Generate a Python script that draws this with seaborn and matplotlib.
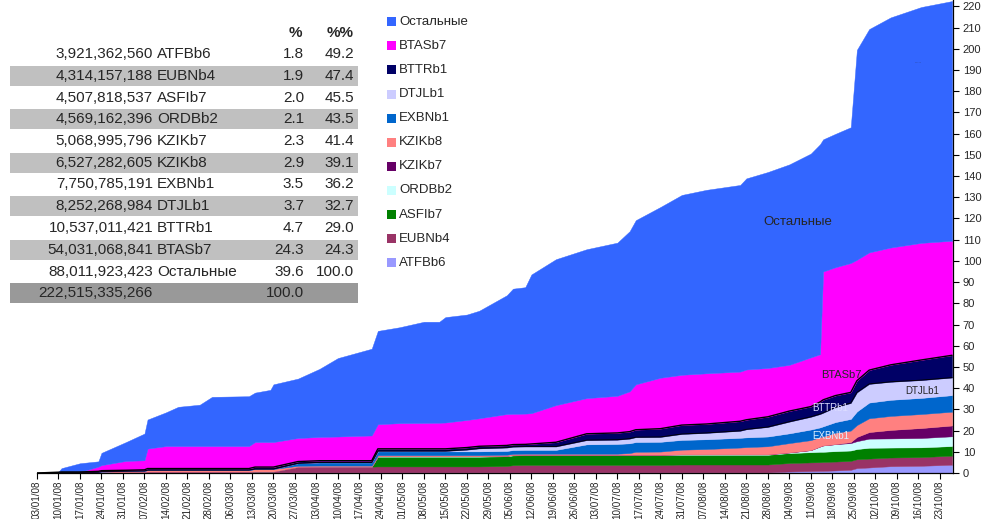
import numpy as np
import pandas as pd
import matplotlib
matplotlib.use("Agg")
import matplotlib.pyplot as plt
import matplotlib.dates as mdates
from matplotlib.patches import Rectangle
import seaborn as sns

# dates of the points
dates = ["2008-01-03", "2008-01-10", "2008-01-11", "2008-01-17", "2008-01-23", "2008-01-24",
         "2008-02-01", "2008-02-07", "2008-02-08", "2008-02-14", "2008-02-18", "2008-02-25",
         "2008-02-29", "2008-03-12", "2008-03-14", "2008-03-19", "2008-03-20", "2008-03-28",
         "2008-04-04", "2008-04-10", "2008-04-21", "2008-04-23", "2008-04-30", "2008-05-08",
         "2008-05-13", "2008-05-15", "2008-05-22", "2008-05-26", "2008-06-04", "2008-06-06",
         "2008-06-10", "2008-06-12", "2008-06-20", "2008-06-30", "2008-07-10", "2008-07-14",
         "2008-07-16", "2008-07-24", "2008-07-31", "2008-08-08", "2008-08-19", "2008-08-21",
         "2008-08-28", "2008-09-04", "2008-09-11", "2008-09-14", "2008-09-15", "2008-09-19",
         "2008-09-24", "2008-09-26", "2008-09-30", "2008-10-07", "2008-10-17", "2008-10-27"]

# series values (billions), bottom of the stack first
ATFBb6 = [0, 0.1, 0.1, 0.1, 0.2, 0.2, 0.2, 0.2, 0.3, 0.3,
          0.3, 0.3, 0.3, 0.3, 0.3, 0.3, 0.3, 0.3, 0.3, 0.3,
          0.3, 0.3, 0.3, 0.3, 0.3, 0.3, 0.3, 0.3, 0.3, 0.3,
          0.3, 0.3, 0.3, 0.3, 0.3, 0.3, 0.3, 0.3, 0.3, 0.3,
          0.3, 0.3, 0.3, 0.7, 0.9, 1.0, 1.0, 1.2, 1.5, 2.3,
          2.6, 3.2, 3.4, 3.9]
EUBNb4 = [0, 0.1, 0.1, 0.1, 0.2, 0.2, 0.2, 0.3, 0.3, 0.3,
          0.3, 0.3, 0.3, 0.3, 0.4, 0.4, 0.4, 2.6, 2.7, 2.7,
          2.7, 2.8, 2.8, 2.8, 2.8, 2.8, 2.8, 2.8, 3.0, 3.4,
          3.5, 3.5, 3.5, 3.5, 3.5, 3.5, 3.5, 3.5, 3.7, 3.7,
          3.7, 3.7, 3.7, 4.0, 4.1, 4.1, 4.2, 4.2, 4.2, 4.2,
          4.2, 4.1, 4.1, 4.3]
ASFIb7 = [0] * 21 + [4.6] * 22 + [4.7, 4.8, 4.9, 4.8, 4.9, 4.9, 4.8, 5.1, 4.7, 4.6, 4.5]
ORDBb2 = [0] * 21 + [0.2] * 22 + [0.3, 1.0, 2.5, 3.0, 3.3, 3.5, 3.7, 4.3, 4.3, 4.4, 4.6]
KZIKb7 = [0] * 48 + [0.5, 2.0, 3.1, 4.0, 4.7, 5.1]
KZIKb8 = [0, 0, 0, 0, 0, 0.3, 0.5, 0.5, 0.8, 0.8,
          0.8, 0.8, 0.8, 0.8, 1.2, 1.2, 1.2, 0.5, 0.5, 0.5,
          0.5, 0.5, 0.5, 0.5, 0.5, 0.5, 0.5, 0.5, 0.5, 0.5,
          0.5, 0.5, 0.5, 0.5, 0.5, 0.8, 1.4, 1.5, 2.2, 2.5,
          3.2, 3.4, 3.8, 4.4, 4.7, 4.5, 4.3, 5.4, 5.4, 5.6,
          6.5, 6.6, 6.6, 6.5]
EXBNb1 = [0] * 17 + [1.2, 1.5, 1.5, 1.5] + [1.8] * 12 + [4.4] + [4.6] * 10 + \
         [5.0, 4.5, 4.7, 5.0, 5.5, 6.4, 7.4, 7.6, 7.6, 7.8]
DTJLb1 = [0] * 21 + [0.2] * 5 + [0.8, 1.4, 1.6, 1.6, 1.6, 1.6, 1.6, 2.0, 2.0, 2.2,
                                 2.3, 2.3, 2.8, 3.0, 3.3, 3.8, 4.5, 5.5, 6.0, 6.3,
                                 6.4, 7.0, 7.5, 9.0, 8.8, 8.5, 8.4, 8.3]
BTTRb1 = [0, 0.2, 0.3, 0.3, 0.4, 0.4, 0.4, 0.5, 0.7, 0.7,
          0.7, 0.7, 0.7, 0.7, 0.9, 0.9, 0.9, 0.8, 0.8, 0.8,
          0.8, 1.0, 1.0, 1.0, 1.0, 1.0, 1.0, 1.0, 1.0, 1.0,
          1.0, 1.2, 2.0, 3.0, 3.2, 3.3, 3.5, 3.9, 4.2, 4.2,
          4.5, 4.5, 4.8, 5.0, 4.8, 5.7, 6.1, 5.5, 5.0, 5.5,
          6.5, 8.0, 9.5, 10.5]
BTASb7 = [0, 0, 0, 0, 2.2, 2.6, 4.4, 4.5, 9.4, 10.6,
          10.6, 10.6, 10.6, 10.6, 11.8, 11.8, 11.8, 11.1, 11.2, 11.4,
          11.9, 11.6, 12.1, 12.2, 12.3, 12.4, 13.0, 13.2, 14.8, 14.5,
          14.5, 14.5, 17.5, 16.8, 17.5, 19.0, 21.4, 24.0, 23.7, 23.9,
          23.4, 23.7, 23.0, 21.8, 23.2, 22.5, 60.5, 60.5, 61.0, 57.0,
          55.5, 55.3, 55.2, 54.0]
Others = [0, 0.2, 1.8, 4.1, 2.5, 5.8, 8.9, 12.6, 13.7, 15.9,
          18.5, 19.5, 23.2, 23.5, 23.3, 24.6, 27.2, 28.0, 32.1, 37.0,
          40.9, 44.0, 45.2, 47.7, 47.6, 49.7, 49.7, 50.7, 56.0, 59.0,
          59.6, 65.4, 68.8, 70.2, 72.2, 75.5, 77.4, 80.5, 84.8, 86.5,
          88.0, 90.1, 92.4, 94.5, 96.1, 99.0, 62.3, 62.9, 64.0, 99.0,
          105.3, 108.5, 111.2, 113.0]

series = ["ATFBb6", "EUBNb4", "ASFIb7", "ORDBb2", "KZIKb7", "KZIKb8",
          "EXBNb1", "DTJLb1", "BTTRb1", "BTASb7", "Остальные"]
colors = ["#9999FF", "#993366", "#008000", "#CCFFFF", "#660066", "#FF8080",
          "#0066CC", "#CCCCFF", "#000066", "#FF00FF", "#3366FF"]

# table in the upper left corner
amounts = [3921362560, 4314157188, 4507818537, 4569162396, 5068995796, 6527282605,
           7750785191, 8252268984, 10537011421, 54031068841, 88011923423]
total_amount = 222515335266
pct = [1.8, 1.9, 2.0, 2.1, 2.3, 2.9, 3.5, 3.7, 4.7, 24.3, 39.6]
cum_pct = [49.2, 47.4, 45.5, 43.5, 41.4, 39.1, 36.2, 32.7, 29.0, 24.3, 100.0]

df = pd.DataFrame({"date": pd.to_datetime(dates), "ATFBb6": ATFBb6, "EUBNb4": EUBNb4,
                   "ASFIb7": ASFIb7, "ORDBb2": ORDBb2, "KZIKb7": KZIKb7, "KZIKb8": KZIKb8,
                   "EXBNb1": EXBNb1, "DTJLb1": DTJLb1, "BTTRb1": BTTRb1, "BTASb7": BTASb7,
                   "Остальные": Others})

sns.set_theme(style="white")
plt.rcParams["font.family"] = ["Liberation Sans", "DejaVu Sans"]

W, H = 989, 519
fig = plt.figure(figsize=(W / 100, H / 100), dpi=100)
ax = fig.add_axes([37 / W, 46 / H, 916 / W, 473 / H])

polys = ax.stackplot(df["date"], *[df[s] for s in series], colors=colors, linewidth=0.3)
for p, c in zip(polys, colors):
    p.set_edgecolor(c)

# black outline on the top of BTTRb1
navy_top = df[series[:9]].sum(axis=1)
sns.lineplot(x=df["date"], y=navy_top, color="black", lw=1.0, ax=ax)
low_top = df[series[:8]].sum(axis=1)
sns.lineplot(x=df["date"], y=low_top, color="black", lw=0.6, ax=ax)

start = pd.Timestamp("2008-01-03")
ax.set_xlim(start, start + pd.Timedelta(days=298.3))
ax.set_ylim(0, 223)
ax.set_xlabel("")
ax.set_ylabel("")

ticks = pd.date_range("2008-01-03", "2008-10-23", freq="7D")
ax.set_xticks(ticks)
ax.xaxis.set_major_formatter(mdates.DateFormatter("%d/%m/%y"))
ax.tick_params(axis="x", direction="out", length=4, width=0.8, labelsize=7.1,
               labelrotation=90, pad=1.5, bottom=True, color="black")
ax.yaxis.tick_right()
ax.set_yticks(np.arange(0, 221, 10))
ax.tick_params(axis="y", direction="out", length=4, width=0.8, labelsize=8,
               pad=3, right=True, left=False, color="black")
for side in ["left", "top"]:
    ax.spines[side].set_visible(False)
for side in ["right", "bottom"]:
    ax.spines[side].set_color("black")
    ax.spines[side].set_linewidth(0.9)


def px(x, y):
    return x / W, 1 - y / H


# chart labels
fig.text(*px(798, 222), "Остальные", fontsize=9.5, ha="center", va="center")
fig.text(*px(841, 375), "BTASb7", fontsize=8, ha="center", va="center")
fig.text(*px(830, 408), "BTTRb1", fontsize=7, ha="center", va="center", color="#DDDDFF")
fig.text(*px(831, 436), "EXBNb1", fontsize=7, ha="center", va="center", color="#DDEEFF")
fig.text(*px(922, 391), "DTJLb1", fontsize=7, ha="center", va="center")
fig.text(*px(918, 62), "......", fontsize=3, ha="center", va="center")

# table
fs = 11
row_y = [54 + 21.75 * i for i in range(12)]
for i in range(12):
    if i % 2 == 1 or i == 11:
        shade = "#999999" if i == 11 else "#C0C0C0"
        x0, y0 = px(10, row_y[i] + 9.8)
        fig.patches.append(Rectangle((x0, y0), 348 / W, 19.6 / H, transform=fig.transFigure,
                                     facecolor=shade, edgecolor="none", zorder=1))
fig.text(*px(302, 33), "%", fontsize=fs, weight="bold", ha="right", va="center")
fig.text(*px(354, 33), "%%", fontsize=fs, weight="bold", ha="right", va="center")
for i, name in enumerate(series):
    y = row_y[i]
    fig.text(*px(153, y), f"{amounts[i]:,}", fontsize=fs, ha="right", va="center")
    fig.text(*px(157, y), name, fontsize=fs, ha="left", va="center")
    fig.text(*px(304, y), f"{pct[i]:.1f}", fontsize=fs, ha="right", va="center")
    fig.text(*px(354, y), f"{cum_pct[i]:.1f}", fontsize=fs, ha="right", va="center")
fig.text(*px(153, row_y[11]), f"{total_amount:,}", fontsize=fs, ha="right", va="center")
fig.text(*px(304, row_y[11]), "100.0", fontsize=fs, ha="right", va="center")

# legend
for i, (name, c) in enumerate(zip(series[::-1], colors[::-1])):
    y = 21.7 + 24.1 * i
    x0, y0 = px(387, y + 4.5)
    fig.patches.append(Rectangle((x0, y0), 9 / W, 9 / H, transform=fig.transFigure,
                                 facecolor=c, edgecolor="none", zorder=1))
    fig.text(*px(399, y), name, fontsize=9.5, ha="left", va="center")

fig.savefig("out.png", dpi=100)
